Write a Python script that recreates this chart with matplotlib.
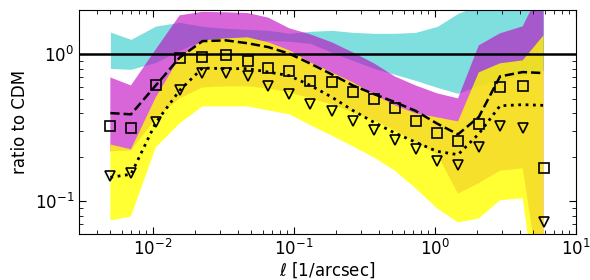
import numpy as np
import matplotlib
matplotlib.use("Agg")
import matplotlib.pyplot as plt

# multipole bins [1/arcsec]
ell = [0.005, 0.007, 0.0105, 0.0155, 0.0225, 0.033, 0.047, 0.066, 0.093, 0.131,
       0.186, 0.262, 0.37, 0.52, 0.73, 1.04, 1.46, 2.05, 2.9, 4.2, 5.9]

# shaded bands (lower / upper)
cyan_lo = [0.803, 0.791, 0.882, 1.065, 1.245, 1.245, 1.245, 1.245, 1.226, 1.188, 1.032,
           0.910, 0.803, 0.731, 0.665, 0.596, 0.543, 0.615, 0.665, 0.720, 0.778]
cyan_hi = [1.418, 1.265, 1.558, 1.651, 1.55, 1.503, 1.48, 1.457, 1.39, 1.434, 1.457,
           1.411, 1.39, 1.39, 1.411, 1.55, 1.90, 2.154, 3.0, 3.0, 3.0]
mag_lo = [0.219, 0.222, 0.367, 0.502, 0.596, 0.606, 0.606, 0.587, 0.551, 0.502, 0.457,
          0.403, 0.356, 0.304, 0.252, 0.209, 0.113, 0.133, 0.162, 0.168, 0.02]
mag_hi = [0.697, 0.615, 1.081, 1.842, 1.946, 1.931, 1.91, 1.777, 1.503, 1.368, 1.207,
          1.032, 0.869, 0.708, 0.615, 0.543, 0.502, 1.151, 1.39, 1.55, 3.0]
yel_lo = [0.0743, 0.079, 0.233, 0.339, 0.443, 0.443, 0.443, 0.416, 0.391, 0.33, 0.28,
          0.237, 0.199, 0.162, 0.123, 0.0896, 0.072, 0.0766, 0.102, 0.105, 0.01]
yel_hi = [0.244, 0.226, 0.510, 0.954, 1.245, 1.285, 1.305, 1.207, 1.065, 0.882, 0.754,
          0.645, 0.534, 0.450, 0.397, 0.373, 0.350, 0.754, 0.869, 0.910, 1.347]

# model curves
dashed = [0.399, 0.391, 0.615, 0.95, 1.23, 1.245, 1.19, 1.12, 1.01, 0.865, 0.731,
          0.615, 0.537, 0.474, 0.413, 0.338, 0.286, 0.375, 0.708, 0.758, 0.746]
dotted = [0.146, 0.153, 0.343, 0.569, 0.807, 0.799, 0.80, 0.758, 0.716, 0.615, 0.512,
          0.416, 0.345, 0.292, 0.253, 0.219, 0.208, 0.288, 0.447, 0.455, 0.45]

# measured points
squares = [0.327, 0.317, 0.622, 0.94, 0.96, 0.995, 0.906, 0.803, 0.775, 0.655, 0.648,
           0.557, 0.494, 0.429, 0.354, 0.290, 0.259, 0.338, 0.597, 0.612, 0.170]
triangles = [0.149, 0.157, 0.346, 0.575, 0.746, 0.746, 0.714, 0.606, 0.534, 0.459, 0.410,
             0.352, 0.304, 0.260, 0.228, 0.189, 0.177, 0.236, 0.324, 0.315, 0.073]

fig = plt.figure(figsize=(5.9, 2.8), dpi=100)
ax = fig.add_axes([0.134, 0.164, 0.842, 0.8])

ax.fill_between(ell, cyan_lo, cyan_hi, color="c", alpha=0.5, lw=0)
ax.fill_between(ell, mag_lo, mag_hi, color="m", alpha=0.6, lw=0)
ax.fill_between(ell, yel_lo, yel_hi, color="yellow", alpha=0.8, lw=0)

ax.axhline(1.0, color="k", lw=1.8)
ax.plot(ell, dashed, "k--", lw=1.8)
ax.plot(ell, dotted, "k:", lw=2)
ax.plot(ell, squares, "s", mfc="none", mec="k", ms=6.5, mew=1.2)
ax.plot(ell, triangles, "v", mfc="none", mec="k", ms=7, mew=1.2)

ax.set_xscale("log")
ax.set_yscale("log")
ax.set_xlim(3e-3, 10)
ax.set_ylim(0.06, 2.0)
ax.tick_params(which="both", direction="in", top=True, right=True, labelsize=12)
ax.tick_params(which="major", length=5)
ax.tick_params(which="minor", length=3)
ax.set_xlabel(r"$\ell$ [1/arcsec]", fontsize=12, labelpad=1)
ax.set_ylabel("ratio to CDM", fontsize=12)

fig.savefig("out.png", dpi=100)
